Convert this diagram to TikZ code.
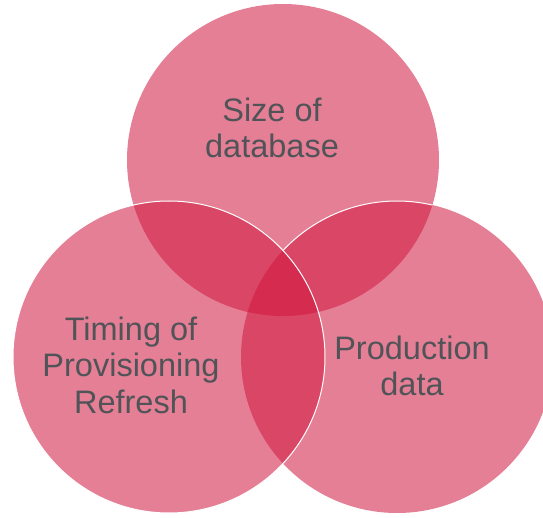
\documentclass[tikz,border=0pt]{standalone}
\usepackage{fontspec}
\setmainfont{Liberation Sans}
\definecolor{vennred}{RGB}{208,22,62}
\definecolor{labelgray}{RGB}{80,84,88}

\begin{document}
\begin{tikzpicture}[x=1pt, y=1pt,
    venn/.style={circle, minimum size=312pt, inner sep=0pt, outer sep=0pt,
      fill=vennred, fill opacity=0.55},
    rim/.style={white, line width=1pt},
    vlabel/.style={text=labelgray, align=center, inner sep=0pt,
      font=\fontsize{32.5}{36.5}\selectfont}]
  \useasboundingbox (0,0) rectangle (543,517);
  % the three sets
  \foreach \cname/\cpos in {size/{(283,357)}, prod/{(397,160)}, timing/{(169,160)}} {
    \node[venn] (c-\cname) at \cpos {};
  }
  % white rims where they show
  \draw[rim] (c-timing.center) circle[radius=156];
  \draw[rim] ([shift={(76.9:156)}]c-prod.center) arc[start angle=76.9, end angle=136.9, radius=156];
  % labels
  \node[vlabel] (l-size) at (272,389) {Size of\\database};
  \node[vlabel] (l-timing) at (131,152) {Timing of\\Provisioning\\Refresh};
  \node[vlabel] (l-prod) at (412,151) {Production\\data};
\end{tikzpicture}
\end{document}
